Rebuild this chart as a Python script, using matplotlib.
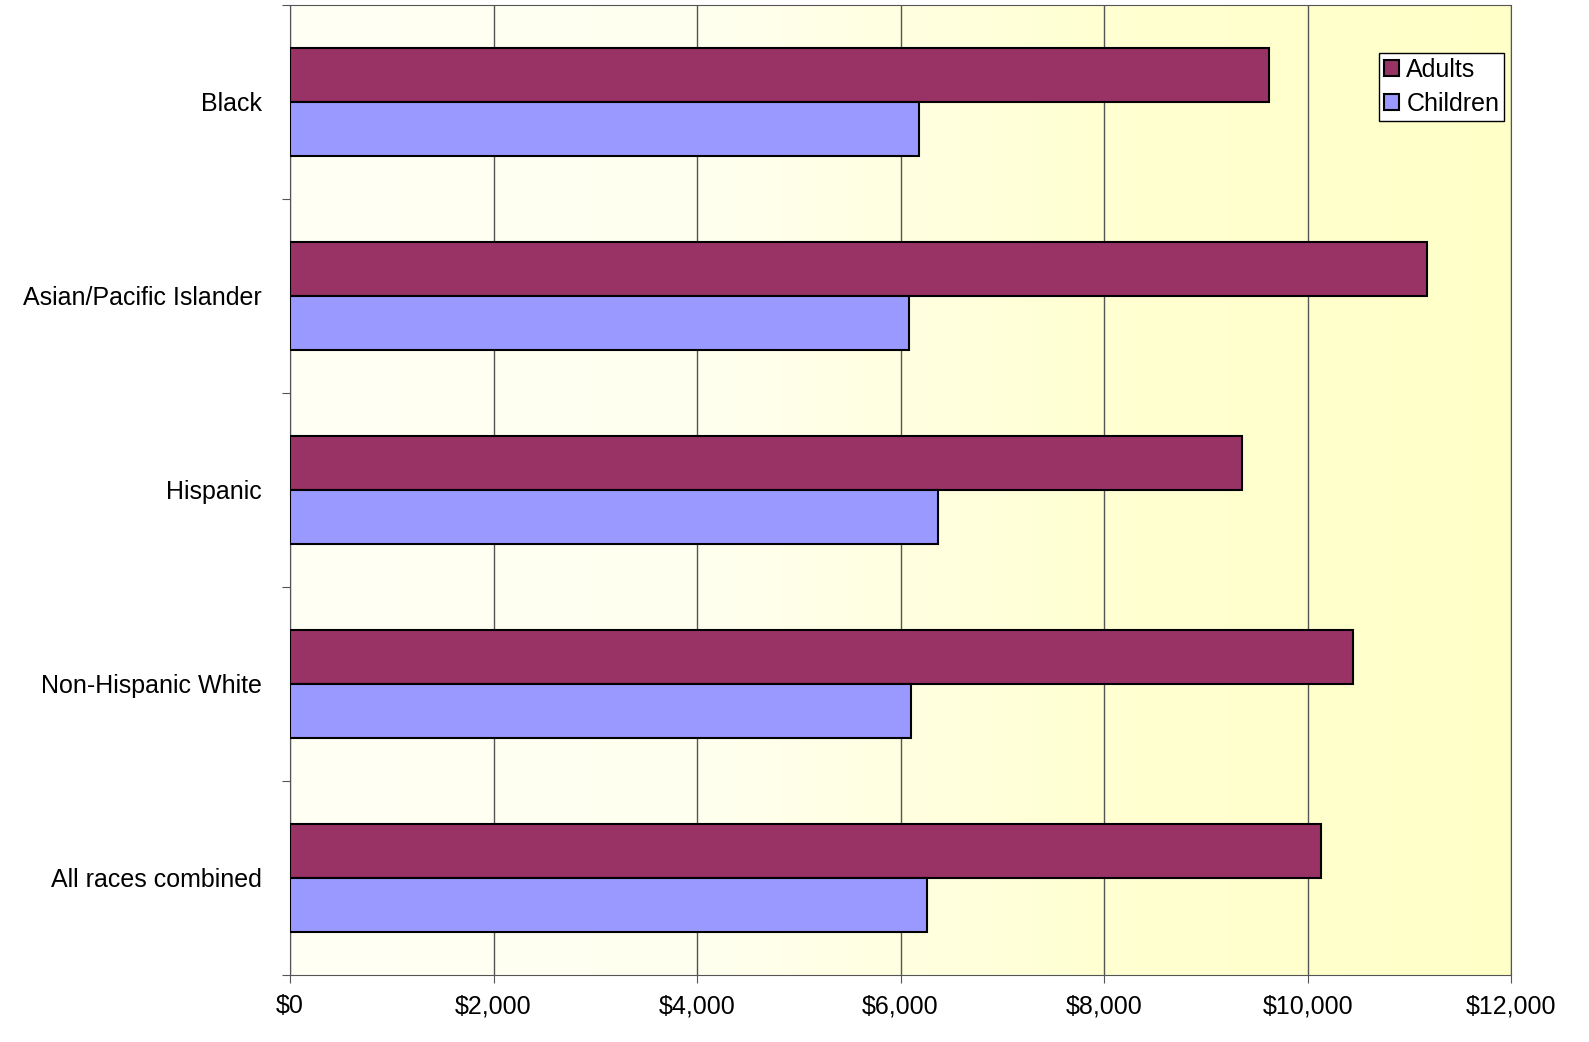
import matplotlib
matplotlib.use("Agg")
import matplotlib.pyplot as plt
import numpy as np
from matplotlib.colors import LinearSegmentedColormap

plt.rcParams['font.family'] = ['Liberation Sans', 'DejaVu Sans']
plt.rcParams['font.size'] = 18

categories = ["Black", "Asian/Pacific Islander", "Hispanic", "Non-Hispanic White", "All races combined"]
adults = [9620, 11170, 9360, 10450, 10130]
children = [6180, 6080, 6370, 6100, 6260]

fig = plt.figure(figsize=(15.89, 10.42), dpi=100)
ax = fig.add_axes([0.1825, 0.0643, 0.7685, 0.931])

n = len(categories)
ax.set_xlim(0, 12000)
ax.set_ylim(n - 0.5, -0.5)

# gradient background
cmap = LinearSegmentedColormap.from_list("bg", ["#fffff4", "#fffff0", "#ffffd2", "#ffffc8"])
grad = np.linspace(0, 1, 256).reshape(1, -1)
ax.imshow(grad, cmap=cmap, aspect="auto", extent=(0, 12000, n - 0.5, -0.5), zorder=0)

y = np.arange(n)
h = 0.28
ax.barh(y - h / 2, adults, height=h, color="#993366", edgecolor="black", linewidth=1.5, label="Adults", zorder=3)
ax.barh(y + h / 2, children, height=h, color="#9999ff", edgecolor="black", linewidth=1.5, label="Children", zorder=3)

ax.set_xticks(range(0, 12001, 2000))
ax.set_xticklabels(["$0"] + ["${:,}".format(v) for v in range(2000, 12001, 2000)], fontsize=18)
ax.xaxis.grid(True, color="#555555", linewidth=1)
for gl in ax.get_xgridlines():
    gl.set_zorder(1)

ax.set_yticks(np.arange(-0.5, n, 1))
ax.set_yticklabels([])
ax.set_yticks(y, minor=True)
ax.set_yticklabels(categories, minor=True, fontsize=18)
ax.tick_params(axis="y", which="minor", length=0, pad=20)
ax.tick_params(axis="y", which="major", length=6, direction="out", color="#555555")
ax.tick_params(axis="x", length=6, direction="out", color="#555555", pad=8)
for s in ax.spines.values():
    s.set_color("#555555")

leg = ax.legend(loc="upper right", bbox_to_anchor=(0.9985, 0.9555), fancybox=False, edgecolor="black",
                fontsize=18, handlelength=0.6, handleheight=0.6, handletextpad=0.3,
                borderpad=0.2, labelspacing=0.4, borderaxespad=0.2)
leg.get_frame().set_facecolor("white")
leg.get_frame().set_alpha(1)

fig.savefig("out.png")
